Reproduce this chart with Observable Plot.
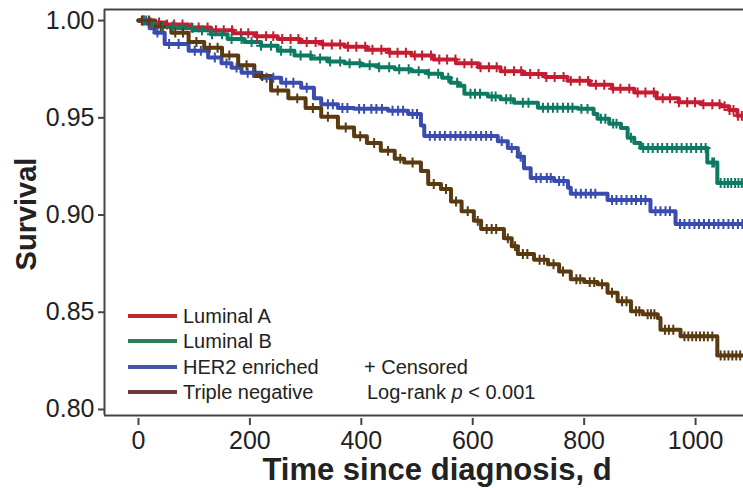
<!DOCTYPE html>
<html>
<head>
<meta charset="utf-8">
<script src="https://cdn.jsdelivr.net/npm/d3@7"></script>
<script src="https://cdn.jsdelivr.net/npm/@observablehq/plot@0.6"></script>
<style>
  html, body { margin: 0; padding: 0; background: #fff; }
  #chart { width: 743px; height: 488px; }
</style>
</head>
<body>
<div id="chart"></div>
<script>
// ---------- DATA ----------
const groups = ["Luminal A", "Luminal B", "HER2 enriched", "Triple negative"];
const curveColors = ["#c61c32", "#0d7a63", "#3b4cb1", "#5a3a10"];
const legendColors = ["#c0282d", "#2e7d58", "#4455ad", "#6c3a3a"];

const xTicks = [0, 200, 400, 600, 800, 1000];
const yTicks = [0.80, 0.85, 0.90, 0.95, 1.00];
const xDomain = [-61, 1086];
const yDomain = [0.7969, 1.0057];

// step knots: from time t onward survival = s
const lumA_t = [0, 20, 50, 90, 130, 170, 210, 250, 290, 330, 370, 410, 450, 490, 530, 570, 610, 650, 690, 730, 770, 810, 850, 890, 930, 970, 1010, 1045, 1060, 1075, 1086];
const lumA_s = [1.000, 0.999, 0.998, 0.9965, 0.995, 0.9935, 0.992, 0.9905, 0.989, 0.9877, 0.9865, 0.985, 0.9835, 0.982, 0.980, 0.978, 0.976, 0.974, 0.9725, 0.971, 0.969, 0.967, 0.965, 0.963, 0.960, 0.958, 0.957, 0.956, 0.954, 0.951, 0.951];

const lumB_t = [0, 15, 40, 70, 100, 130, 160, 190, 220, 250, 280, 310, 340, 370, 400, 430, 460, 490, 520, 545, 560, 575, 585, 627, 650, 674, 717, 789, 817, 824, 845, 866, 878, 890, 901, 1021, 1039, 1086];
const lumB_s = [1.000, 0.9985, 0.997, 0.9962, 0.995, 0.993, 0.9905, 0.989, 0.987, 0.9845, 0.982, 0.9805, 0.979, 0.978, 0.977, 0.976, 0.975, 0.974, 0.9727, 0.9706, 0.968, 0.9665, 0.9624, 0.961, 0.9595, 0.9577, 0.9552, 0.9546, 0.952, 0.9495, 0.947, 0.9448, 0.9397, 0.937, 0.9345, 0.927, 0.9165, 0.9165];

const her2_t = [0, 20, 29, 47, 90, 125, 149, 167, 185, 220, 256, 292, 315, 328, 358, 387, 448, 484, 507, 513, 645, 663, 681, 692, 704, 746, 771, 776, 842, 919, 964, 1086];
const her2_s = [1.000, 0.996, 0.9938, 0.988, 0.9845, 0.981, 0.978, 0.9758, 0.9732, 0.9706, 0.968, 0.9655, 0.960, 0.957, 0.955, 0.9546, 0.9536, 0.952, 0.946, 0.9407, 0.938, 0.9345, 0.930, 0.924, 0.919, 0.9175, 0.914, 0.911, 0.9077, 0.902, 0.8954, 0.8954];

const tneg_t = [0, 30, 59, 90, 118, 150, 179, 208, 238, 269, 300, 328, 358, 387, 410, 435, 460, 477, 507, 520, 543, 561, 580, 602, 615, 656, 670, 681, 710, 735, 755, 776, 800, 824, 842, 860, 884, 905, 932, 937, 973, 1039, 1086];
const tneg_s = [1.000, 0.997, 0.9938, 0.989, 0.986, 0.982, 0.977, 0.9715, 0.964, 0.960, 0.955, 0.9505, 0.945, 0.9405, 0.937, 0.933, 0.929, 0.927, 0.9227, 0.916, 0.9134, 0.907, 0.902, 0.897, 0.8928, 0.888, 0.884, 0.880, 0.877, 0.8747, 0.871, 0.867, 0.8655, 0.8644, 0.860, 0.8557, 0.8505, 0.849, 0.847, 0.841, 0.8376, 0.8278, 0.8278];

// censoring times
const lumA_c = [8, 22, 37, 51, 64, 79, 95, 108, 124, 139, 153, 168, 184, 197, 213, 229, 242, 258, 273, 287, 302, 318, 331, 347, 362, 376, 391, 407, 420, 436, 451, 465, 480, 496, 509, 525, 540, 554, 569, 585, 598, 614, 629, 643, 658, 674, 687, 703, 718, 732, 747, 763, 776, 792, 807, 821, 836, 852, 865, 881, 896, 910, 925, 941, 954, 970, 985, 999, 1014, 1030, 1043, 1052, 1061, 1068, 1076, 1083];
const lumB_c = [10, 26, 44, 61, 79, 97, 114, 132, 150, 167, 185, 203, 220, 238, 256, 273, 291, 309, 326, 344, 362, 379, 397, 415, 432, 450, 468, 485, 503, 521, 538, 556, 572, 596, 604, 613, 634, 641, 660, 668, 690, 700, 726, 735, 744, 752, 762, 771, 779, 795, 806, 830, 838, 852, 858, 884, 906, 915, 923, 932, 940, 949, 958, 966, 975, 984, 992, 1001, 1010, 1018, 1030, 1033, 1045, 1052, 1058, 1064, 1071, 1077, 1083];
const her2_c = [14, 34, 55, 72, 101, 112, 137, 158, 176, 196, 206, 230, 242, 265, 278, 302, 340, 349, 366, 375, 396, 405, 418, 427, 437, 456, 466, 475, 492, 500, 523, 532, 541, 550, 560, 569, 578, 587, 596, 606, 615, 624, 633, 652, 670, 686, 714, 722, 733, 740, 755, 763, 785, 794, 803, 812, 820, 850, 858, 867, 876, 885, 893, 902, 910, 928, 937, 946, 954, 972, 980, 989, 998, 1006, 1015, 1024, 1033, 1041, 1050, 1059, 1067, 1076, 1084];
const tneg_c = [6, 19, 40, 66, 80, 104, 128, 142, 163, 194, 222, 250, 285, 313, 340, 372, 398, 423, 448, 470, 492, 530, 552, 570, 591, 609, 625, 634, 642, 663, 676, 690, 698, 720, 728, 745, 762, 786, 793, 810, 818, 832, 850, 868, 876, 893, 899, 914, 920, 926, 945, 952, 960, 980, 987, 994, 1001, 1008, 1015, 1022, 1030, 1045, 1052, 1059, 1066, 1073, 1080];

// ---------- BUILD TABLES ----------
const knotT = [lumA_t, lumB_t, her2_t, tneg_t];
const knotS = [lumA_s, lumB_s, her2_s, tneg_s];
const cens = [lumA_c, lumB_c, her2_c, tneg_c];

const steps = [];
groups.forEach((g, i) => knotT[i].forEach((t, j) => steps.push({group: g, time: t, surv: knotS[i][j]})));

function survAt(i, t) {
  let s = knotS[i][0];
  for (let j = 0; j < knotT[i].length; j++) { if (knotT[i][j] <= t) s = knotS[i][j]; else break; }
  return s;
}
const censored = [];
groups.forEach((g, i) => cens[i].forEach(t => censored.push({group: g, time: t, surv: survAt(i, t)})));

// ---------- PLOT ----------
const axisColor = "#444";
const plot = Plot.plot({
  width: 743,
  height: 488,
  marginLeft: 104,
  marginRight: 0,
  marginTop: 9,
  marginBottom: 73,
  x: {domain: xDomain},
  y: {domain: yDomain},
  color: {domain: groups, range: curveColors},
  style: {fontFamily: "'Liberation Sans', Arial, Helvetica, sans-serif", fontSize: "25px", color: "#222", background: "#fff"},
  marks: [
    Plot.axisY({ticks: yTicks, tickSize: 6, tickPadding: 4, tickFormat: d => d.toFixed(2), label: null, stroke: axisColor, strokeWidth: 2, fontSize: 25}),
    Plot.axisX({ticks: xTicks, tickSize: 7, tickPadding: 6, dy: 3, tickFormat: d => String(d), label: null, stroke: axisColor, strokeWidth: 2, fontSize: 25}),
    Plot.ruleX([xDomain[0]], {stroke: axisColor, strokeWidth: 2}),
    Plot.ruleY([yDomain[0]], {stroke: axisColor, strokeWidth: 2}),
    Plot.ruleY([yDomain[1]], {stroke: axisColor, strokeWidth: 2}),
    Plot.line(steps, {x: "time", y: "surv", z: "group", stroke: "group", curve: "step-after", strokeWidth: 4, clip: true}),
    Plot.dot(censored, {x: "time", y: "surv", stroke: "group", symbol: "plus", r: 3.3, strokeWidth: 2, clip: true})
  ]
});

document.getElementById("chart").appendChild(plot);

// ---------- TITLES & LEGEND ----------
const svg = d3.select(plot);
const font = "'Liberation Sans', Arial, Helvetica, sans-serif";
svg.append("text")
  .attr("x", 437).attr("y", 480)
  .attr("text-anchor", "middle")
  .attr("font-family", font).attr("font-size", 31).attr("font-weight", "bold").attr("fill", "#222")
  .text("Time since diagnosis, d");
svg.append("text")
  .attr("transform", "translate(36,214) rotate(-90)")
  .attr("text-anchor", "middle")
  .attr("font-family", font).attr("font-size", 29).attr("font-weight", "bold").attr("fill", "#222")
  .text("Survival");

const legY = [316, 341, 367, 392];
const leg = svg.append("g").attr("font-family", font).attr("font-size", 20).attr("fill", "#222").attr("text-anchor", "start");
groups.forEach((g, i) => {
  leg.append("line").attr("x1", 128).attr("x2", 177).attr("y1", legY[i]).attr("y2", legY[i])
    .attr("stroke", legendColors[i]).attr("stroke-width", 4);
  leg.append("text").attr("x", 183).attr("y", legY[i]).attr("dy", "0.36em").text(g);
});
leg.append("text").attr("x", 364).attr("y", legY[2]).attr("dy", "0.36em").text("+ Censored");
const lr = leg.append("text").attr("x", 367).attr("y", legY[3]).attr("dy", "0.36em");
lr.append("tspan").text("Log-rank ");
lr.append("tspan").attr("font-style", "italic").text("p");
lr.append("tspan").text(" < 0.001");
</script>
</body>
</html>
